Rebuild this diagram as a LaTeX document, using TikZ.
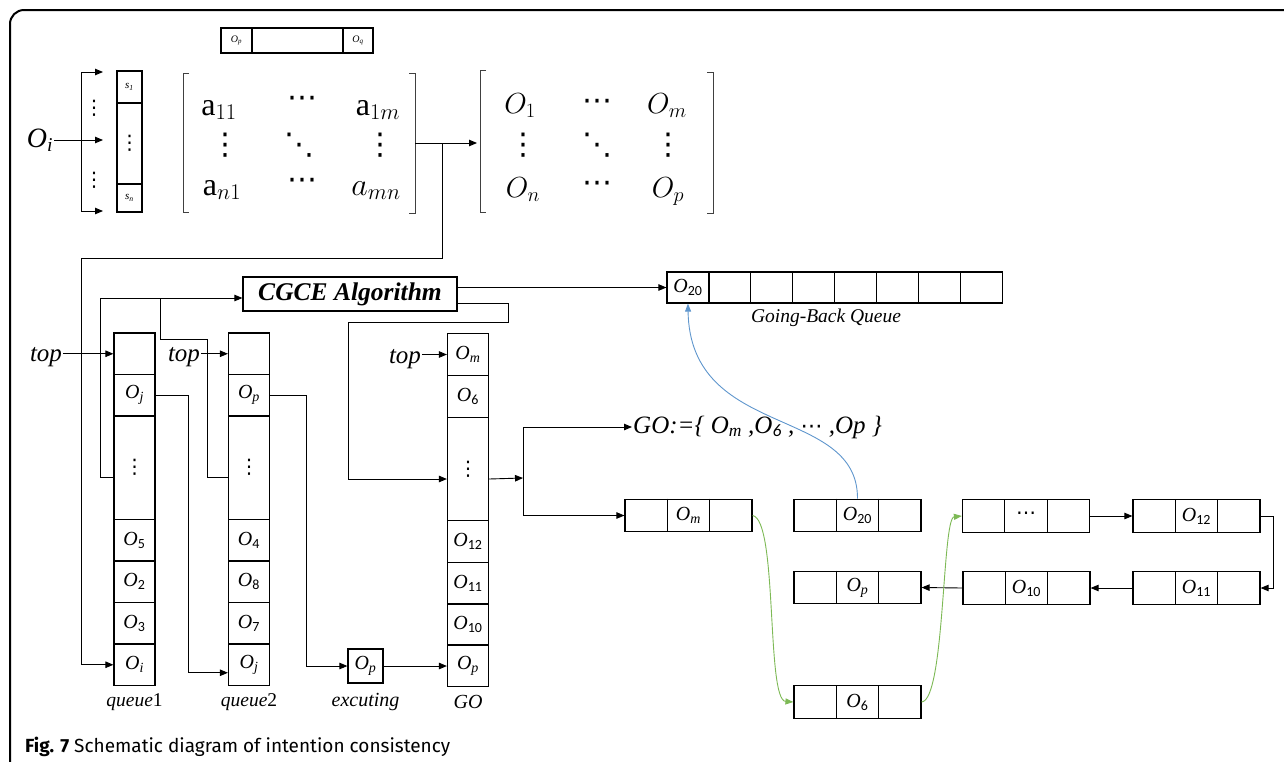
\RequirePackage{fix-cm}
\documentclass[tikz,border=0pt]{standalone}
\usepackage{fontspec}
\setmainfont{Liberation Serif}
\newfontfamily\capfont{Fira Sans}
\newfontfamily\calfont{Carlito}
\newfontfamily\dv{DejaVu Sans}
\usetikzlibrary{arrows.meta,calc}
\definecolor{blueline}{RGB}{95,150,205}
\definecolor{greenline}{RGB}{125,185,85}
\newcommand\fsz[1]{\fontsize{#1}{#1}\selectfont}
\newcommand\Oi[1]{\textit{O}\textsubscript{\textit{#1}}}
\newcommand\Oc[1]{\textit{O}\textsubscript{\calfont #1}}
\newcommand\vd{{\dv ⋮}}
\newcommand\dd{{\dv ⋱}}
\newcommand\cd{{\dv ⋯}}
\newcommand\lnode[4]{%
  \node[box,lcell] (#1) at (#2,#3) {#4};
  \draw[line width=1.2pt] ($(#1.north west)!1/3!(#1.north east)$) -- ($(#1.south west)!1/3!(#1.south east)$);
  \draw[line width=1.2pt] ($(#1.north west)!2/3!(#1.north east)$) -- ($(#1.south west)!2/3!(#1.south east)$);}
\begin{document}
\begin{tikzpicture}[x=1pt,y=-1pt,
  box/.style={draw,line width=1.2pt,inner sep=0pt},
  cellfont/.style={font=\fsz{20}},
  qcell/.style={box,cellfont,minimum width=41pt},
  lcell/.style={cellfont,minimum width=127pt,minimum height=32.5pt},
  arr/.style={-{Triangle[length=8pt,width=6.5pt]},line width=0.9pt},
  ln/.style={line width=0.9pt},
  brk/.style={line width=0.9pt,black!75},
  lbl/.style={font=\fsz{20}\itshape},
  mA/.style={font=\fsz{32},inner sep=0pt},
  mO/.style={font=\fsz{29},inner sep=0pt},
  md/.style={font=\fsz{30},inner sep=0pt},
  tiny/.style={font=\fsz{10},inner sep=0pt}]
\useasboundingbox (0,0) rectangle (1284,761);
% frame
\draw[line width=2pt,rounded corners=14pt] (10,800) -- (10,10) -- (1300,10);

% top small box
\node[box,minimum width=152pt,minimum height=25pt] (tb) at (297,40.5) {};
\draw[line width=1.2pt] (252,28) -- (252,53);
\draw[line width=1.2pt] (343,28) -- (343,53);
\node[tiny] (tbp) at (236.5,40.5) {\Oi{p}};
\node[tiny] (tbq) at (358,40.5) {\Oi{q}};

% s stack
\node[box,minimum width=25pt,minimum height=141pt] (ss) at (129.5,141.5) {};
\draw[line width=1.2pt] (117,103) -- (142,103);
\draw[line width=1.2pt] (117,184) -- (142,184);
\node[tiny,font=\fsz{11}\itshape] (s1) at (129.5,87) {s\textsubscript{1}};
\node[font=\fsz{20},inner sep=0pt] (sd) at (129.5,143) {\vd};
\node[tiny,font=\fsz{11}\itshape] (sn) at (129.5,198) {s\textsubscript{n}};

% fan-in arrows
\node[font=\fsz{28},inner sep=1pt] (oi) at (40,140) {\Oi{i}};
\coordinate (f1) at (81,72);
\coordinate (f3) at (81,211);
\coordinate (t1) at (103,72);
\coordinate (t2) at (103,140);
\coordinate (t3) at (103,211);
\draw[ln] (f1) -- (f3);
\draw[arr] (f1) -- (t1);
\draw[arr] (f3) -- (t3);
\draw[arr] (oi.east) -- (t2);
\node[font=\fsz{20},inner sep=0pt] (fd1) at (94,108) {\vd};
\node[font=\fsz{20},inner sep=0pt] (fd2) at (94,180) {\vd};

% matrix A
\draw[brk] (189,73) -- (183,73) -- (183,212) -- (189,212);
\draw[brk] (409,73) -- (415,73) -- (415,213) -- (409,213);
\node[mA,anchor=base] (a11) at (219,115) {$\mathrm{a}_{11}$};
\node[md] (a12) at (302,102) {\cd};
\node[mA,anchor=base] (a1m) at (378,115) {$\mathrm{a}_{1m}$};
\node[md] (a21) at (225,145) {\vd};
\node[md] (a22) at (299,145) {\dd};
\node[md] (a2m) at (380,145) {\vd};
\node[mA,anchor=base] (an1) at (222,195) {$\mathrm{a}_{n1}$};
\node[md] (an2) at (302,184) {\cd};
\node[mA,anchor=base] (anm) at (376,195) {$a_{mn}$};

% matrix O
\draw[brk] (486,70) -- (480,70) -- (480,212) -- (486,212);
\draw[brk] (707,72) -- (713,72) -- (713,213) -- (707,213);
\node[mO,anchor=base] (o11) at (520,113) {$O_1$};
\node[md] (o12) at (597,105) {\cd};
\node[mO,anchor=base] (o1m) at (667,113) {$O_m$};
\node[md] (o21) at (523,145) {\vd};
\node[md] (o22) at (597,145) {\dd};
\node[md] (o2m) at (668,145) {\vd};
\node[mO,anchor=base] (on1) at (523,197) {$O_n$};
\node[md] (on2) at (597,187) {\cd};
\node[mO,anchor=base] (onm) at (668,197) {$O_p$};

\coordinate (ma) at (415,143);
\coordinate (mo) at (477,143);
\coordinate (jA) at (442,143);
\draw[arr] (ma) -- (mo);

% queue1
\foreach \n/\yc/\h/\t in {a/353.75/41.5/{}, b/395.25/41.5/{\Oi{j}}, c/467.75/103.5/{{\fsz{20}\vd}}, d/540.25/41.5/{\Oc{5}}, e/581.75/41.5/{\Oc{2}}, f/623.25/41.5/{\Oc{3}}, g/664.75/41.5/{\Oi{i}}}
  \node[qcell,minimum height=\h pt] (q1\n) at (134.5,\yc) {\t};
% queue2
\foreach \n/\yc/\h/\t in {a/353.75/41.5/{}, b/395.25/41.5/{\Oi{p}}, c/467.75/103.5/{{\fsz{20}\vd}}, d/540.25/41.5/{\Oc{4}}, e/581.75/41.5/{\Oc{8}}, f/623.25/41.5/{\Oc{7}}, g/664.75/41.5/{\Oi{j}}}
  \node[qcell,minimum height=\h pt] (q2\n) at (249,\yc) {\t};
% GO stack
\foreach \n/\yc/\h/\t in {a/354.5/42/{\Oi{m}}, b/396.5/42/{\Oc{6}}, c/469/103/{{\fsz{20}\vd}}, d/541.75/42/{\Oc{12}}, e/583.25/41.5/{\Oc{11}}, f/624.5/41.5/{\Oc{10}}, g/665.75/41.5/{\Oi{p}}}
  \node[qcell,minimum height=\h pt] (go\n) at (468,\yc) {\t};

\node[font=\fsz{19.5}\itshape] (lq1) at (134.5,702) {queue\textup{1}};
\node[font=\fsz{19.5}\itshape] (lq2) at (249,702) {queue\textup{2}};
\node[lbl] (lgo) at (468,702) {GO};

% executing
\node[box,cellfont,minimum width=35pt,minimum height=34pt] (ex) at (365.5,666) {\Oi{p}};
\node[lbl] (lex) at (365.5,702) {excuting};

% top labels
\node[font=\fsz{25}\itshape,inner sep=1pt] (top1) at (46,357) {top};
\node[font=\fsz{25}\itshape,inner sep=1pt] (top2) at (184,357) {top};
\node[font=\fsz{25}\itshape,inner sep=1pt] (top3) at (405,359) {top};
\draw[arr] (top1.east |- q1a.west) -- (q1a.west);
\draw[arr] (top2.east |- q2a.west) -- (q2a.west);
\draw[arr] (top3.east |- goa.west) -- (goa.west);

% CGCE box
\node[box,minimum width=214pt,minimum height=34pt,font=\fsz{25.5}\bfseries\itshape] (cgce) at (350,294) {CGCE Algorithm};

% going-back queue
\node[box,cellfont,minimum width=41.9pt,minimum height=31pt] (gb1) at (687.95,287.5) {\Oc{20}};
\foreach \i in {2,...,8}
  \node[box,minimum width=41.9pt,minimum height=31pt] (gb\i) at ({667+41.9*(\i-0.5)},287.5) {};
\node[font=\fsz{19.5}\itshape] (lgb) at (826,318) {Going-Back Queue};

% connectors around queues
\coordinate (c1) at (442,258);
\coordinate (c2) at (81,258);
\draw[arr] (jA) -- (c1) -- (c2) |- (q1g.west);
\coordinate (jc) at (160,298);
\draw[arr] ([yshift=-10pt]q1c.west) -- ++(-13,0) |- ([yshift=-4pt]cgce.west);
\draw[ln] ([yshift=-10pt]q2c.west) -- ++(-20,0) |- (160,339) -- (jc);
\draw[arr] (q1b.east) -- ++(33,0) |- ([yshift=-8pt]q2g.west);
\draw[arr] (q2b.east) -- ++(36,0) |- (ex.west);
\draw[arr] (ex.east) -- (ex.east -| gog.west);
\draw[arr] (cgce.east |- gb1.west) -- (gb1.west);
\coordinate (c3) at (508,303);
\coordinate (c4) at (508,322);
\coordinate (c5) at (348,322);
\draw[arr] (cgce.east |- c3) -- (c3) -- (c4) -- (c5) |- ([yshift=-10pt]goc.west);

% GO set
\node[anchor=west,font=\fsz{25}\itshape,inner sep=1pt] (goset) at (632,427) {GO:=\{ \Oi{m} ,\Oc{6} , {\upshape\fsz{22}\dv ⋯} ,Op \}};

% linked list
\lnode{lm}{688.5}{515.5}{\Oi{m}}
\lnode{l20}{857.5}{515.5}{\Oc{20}}
\lnode{lp}{857.5}{587.5}{\Oi{p}}
\lnode{l6}{857.5}{702}{\Oc{6}}
\lnode{ld}{1026}{516}{{\fsz{20}\cd}}
\lnode{l12}{1196.5}{516}{\Oc{12}}
\lnode{l11}{1196.5}{588}{\Oc{11}}
\lnode{l10}{1026.5}{588}{\Oc{10}}

\coordinate (k) at (523,478);
\draw[arr] ([yshift=-10pt]goc.east) -- (k);
\draw[arr] (k) |- (goset.west);
\draw[arr] (k) |- (lm.west);

\draw[arr] (ld.east) -- (l12.west);
\draw[arr] (l12.east) -- ++(13,0) |- (l11.east);
\draw[arr] (l11.west) -- (l10.east);
\draw[arr] (l10.west) -- (lp.east);

\draw[greenline,line width=0.9pt,-{Triangle[length=8pt,width=6pt]}] (lm.east) .. controls (778,520) and (766,700) .. (l6.west);
\draw[greenline,line width=0.9pt,-{Triangle[length=8pt,width=6pt]}] (l6.east) .. controls (945,700) and (942,518) .. (ld.west);
\draw[blueline,line width=0.9pt,-{Triangle[length=8pt,width=6pt]}] (l20.north) .. controls (858,405) and (690,440) .. (gb1.south);

% caption
\node[anchor=base west,font=\capfont\fsz{19},inner sep=0pt] (cap) at (25,752) {\textbf{Fig. 7} Schematic diagram of intention consistency};
\end{tikzpicture}
\end{document}
